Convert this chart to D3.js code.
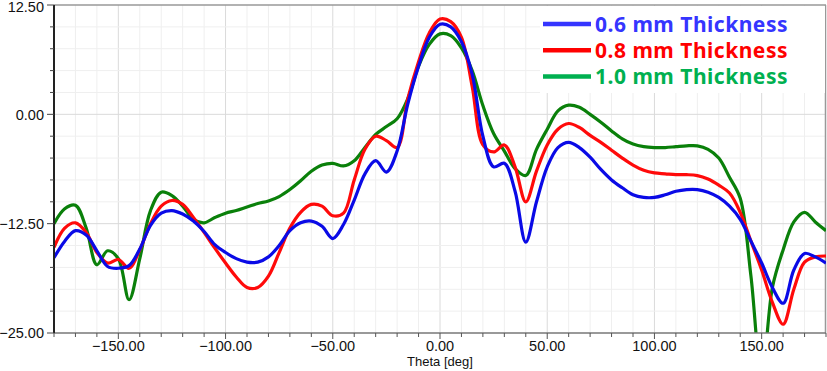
<!DOCTYPE html>
<html lang="en">
    <head>
        <meta charset="utf-8">
        <style>
            body { margin: 0; background: #fff; }
            svg { display: block; }
            .tick-label { font: 14.5px "Liberation Sans", Arial, sans-serif; fill: #111; }
            .axis-title { font: 13px "Liberation Sans", Arial, sans-serif; fill: #111; }
            .legend text { font: bold 21px "Noto Sans", sans-serif; letter-spacing: 0.5px; }
        </style>
    </head>
    <body>
        <script src="https://d3js.org/d3.v7.min.js"></script>
        <script type="text/javascript" charset="utf-8">
            // theta samples, every 5 degrees
            var theta = d3.range(-180, 181, 5);

            var thick06 = [-16.4, -14.5, -13.3, -13.8, -15.6, -17.4, -17.6, -17.3, -15.4, -12.7,
                           -11.3, -11.0, -11.4, -12.2, -13.4, -14.9, -15.8, -16.5, -16.9, -16.9,
                           -16.3, -15.0, -13.3, -12.4, -12.2, -12.8, -14.2, -12.6, -9.8, -6.8,
                           -5.3, -6.6, -4.2, 1.2, 5.5, 8.8, 10.3, 10.0, 8.3, 4.6,
                           -2.5, -6.0, -5.6, -8.8, -14.6, -10.0, -6.0, -3.8, -3.2, -3.8,
                           -4.9, -6.3, -7.5, -8.4, -9.2, -9.5, -9.5, -9.2, -8.8, -8.6,
                           -8.6, -8.9, -9.5, -10.5, -12.0, -14.5, -17.0, -19.8, -21.6, -17.8,
                           -15.9, -16.3, -17.0];

            var thick08 = [-15.2, -13.0, -12.4, -13.5, -15.8, -17.0, -16.6, -17.6, -15.5, -12.5,
                           -10.5, -9.85, -10.3, -11.8, -13.5, -15.3, -17.0, -18.6, -19.8, -19.8,
                           -18.5, -15.8, -13.0, -11.2, -10.3, -10.5, -11.6, -11.3, -7.5, -4.0,
                           -2.5, -3.0, -3.8, 1.8, 6.0, 9.3, 10.9, 10.6, 8.8, 3.2,
                           -3.5, -4.3, -3.5, -6.0, -10.0, -6.5, -3.5, -1.7, -1.05, -1.5,
                           -2.4, -3.2, -4.1, -5.0, -5.8, -6.4, -6.7, -6.8, -6.9, -6.9,
                           -7.0, -7.4, -8.1, -9.0, -11.2, -14.5, -17.8, -21.5, -24.0, -20.0,
                           -16.9, -16.3, -16.2];

            var thick10 = [-12.5, -10.8, -10.4, -13.0, -17.2, -15.6, -16.5, -21.2, -16.5, -11.0,
                           -8.9, -9.3, -10.5, -12.0, -12.4, -11.8, -11.3, -11.0, -10.6, -10.2,
                           -9.9, -9.4, -8.6, -7.6, -6.5, -5.8, -5.6, -5.9, -5.3, -3.8,
                           -2.3, -1.4, -0.5, 1.8, 5.5, 8.0, 9.2, 9.0, 7.6, 5.0,
                           1.0, -2.2, -4.2, -6.2, -7.0, -4.0, -1.7, 0.4, 1.05, 0.8,
                           0.0, -0.9, -1.9, -2.8, -3.4, -3.7, -3.8, -3.8, -3.7, -3.6,
                           -3.6, -4.0, -5.0, -7.2, -9.6, -18.5, -30.0, -19.8, -15.5, -12.3,
                           -11.2, -12.3, -13.3];

            var seriesNames = ["0.6 mm Thickness", "0.8 mm Thickness", "1.0 mm Thickness"];
            var lineColors = ["#0a0ae6", "#ff0a0a", "#0a800a"];
            var legendColors = ["#3535ff", "#ff0000", "#00b050"];
            var xTicks = [-150, -100, -50, 0, 50, 100, 150];
            var yTicks = [12.5, 0, -12.5, -25];

            var width = 827, height = 371;
            var svg = d3.select("body").append("svg")
                .attr("width", width)
                .attr("height", height);

            var x = d3.scaleLinear().domain([-180, 180]).range([54, 826]);
            var y = d3.scaleLinear().domain([-25, 12.5]).range([333, 5]);

            var grid = svg.append("g");
            grid.selectAll("line.vx")
                .data(d3.range(-170, 180, 10)).enter()
                .append("line")
                .attr("x1", function(d) { return x(d); })
                .attr("x2", function(d) { return x(d); })
                .attr("y1", y(12.5)).attr("y2", y(-25))
                .attr("stroke", function(d) { return d % 50 === 0 ? "#dadada" : "#efefef"; })
                .attr("stroke-width", 1);
            grid.selectAll("line.hy")
                .data(d3.range(-22.5, 12.5, 2.5)).enter()
                .append("line")
                .attr("y1", function(d) { return y(d); })
                .attr("y2", function(d) { return y(d); })
                .attr("x1", x(-180)).attr("x2", x(180))
                .attr("stroke", function(d) { return d % 12.5 === 0 ? "#dadada" : "#efefef"; })
                .attr("stroke-width", 1);

            // frame
            svg.append("line").attr("x1", x(-180)).attr("x2", x(180))
                .attr("y1", 5).attr("y2", 5).attr("stroke", "#999").attr("stroke-width", 1.5);
            svg.append("line").attr("x1", 825.5).attr("x2", 825.5)
                .attr("y1", 5).attr("y2", 333).attr("stroke", "#999").attr("stroke-width", 1.5);

            // legend background covers the grid
            svg.append("rect").attr("x", 540).attr("y", 6).attr("width", 285).attr("height", 87)
                .attr("fill", "#fff");

            svg.append("clipPath").attr("id", "plot-clip")
                .append("rect").attr("x", x(-180)).attr("y", y(12.5))
                .attr("width", x(180) - x(-180)).attr("height", y(-25) - y(12.5));

            var line = d3.line()
                .x(function(d) { return x(d[0]); })
                .y(function(d) { return y(d[1]); })
                .curve(d3.curveCatmullRom.alpha(0.5));

            var allSeries = [thick06, thick08, thick10];
            // draw green first, then red, then blue on top
            var order = [2, 1, 0];
            svg.append("g").attr("clip-path", "url(#plot-clip)")
                .selectAll("path")
                .data(order).enter()
                .append("path")
                .attr("d", function(i) { return line(d3.zip(theta, allSeries[i])); })
                .attr("fill", "none")
                .attr("stroke", function(i) { return lineColors[i]; })
                .attr("stroke-width", 3.2)
                .attr("stroke-linejoin", "round");

            // axes
            var xAxis = svg.append("g").attr("transform", "translate(0," + y(-25) + ")");
            xAxis.append("line").attr("x1", x(-180)).attr("x2", x(180))
                .attr("stroke", "#777").attr("stroke-width", 1.5);
            xAxis.selectAll("line.tk")
                .data(d3.range(-180, 181, 10)).enter()
                .append("line")
                .attr("x1", function(d) { return x(d); })
                .attr("x2", function(d) { return x(d); })
                .attr("y1", 0).attr("y2", function(d) { return d % 50 === 0 ? 6 : 4; })
                .attr("stroke", "#555");
            xAxis.selectAll("text")
                .data(xTicks).enter()
                .append("text")
                .attr("class", "tick-label")
                .attr("x", function(d) { return x(d); })
                .attr("y", 18)
                .attr("text-anchor", "middle")
                .text(function(d) { return d3.format(".2f")(d); });

            var yAxis = svg.append("g").attr("transform", "translate(" + x(-180) + ",0)");
            yAxis.append("line").attr("y1", y(12.5)).attr("y2", y(-25))
                .attr("stroke", "#222").attr("stroke-width", 2);
            yAxis.selectAll("line.tk")
                .data(d3.range(-25, 12.6, 2.5)).enter()
                .append("line")
                .attr("y1", function(d) { return y(d); })
                .attr("y2", function(d) { return y(d); })
                .attr("x1", 0).attr("x2", function(d) { return d % 12.5 === 0 ? -7 : -4; })
                .attr("stroke", "#444");
            yAxis.selectAll("text")
                .data(yTicks).enter()
                .append("text")
                .attr("class", "tick-label")
                .attr("x", -10)
                .attr("y", function(d) { return Math.max(y(d), 7); })
                .attr("dy", "0.36em")
                .attr("text-anchor", "end")
                .text(function(d) { return d3.format(".2f")(d); });

            svg.append("text").attr("class", "axis-title")
                .attr("x", x(0)).attr("y", 366)
                .attr("text-anchor", "middle")
                .text("Theta [deg]");

            // legend
            var legend = svg.append("g").attr("class", "legend")
                .selectAll("g")
                .data(seriesNames).enter()
                .append("g")
                .attr("transform", function(d, i) { return "translate(543," + (24 + i * 26.3) + ")"; });
            legend.append("line")
                .attr("x1", 0).attr("x2", 48)
                .attr("stroke", function(d, i) { return legendColors[i]; })
                .attr("stroke-width", 4.5);
            legend.append("text")
                .attr("x", 52).attr("y", 7.5)
                .attr("fill", function(d, i) { return legendColors[i]; })
                .text(function(d) { return d; });
        </script>
    </body>
</html>
